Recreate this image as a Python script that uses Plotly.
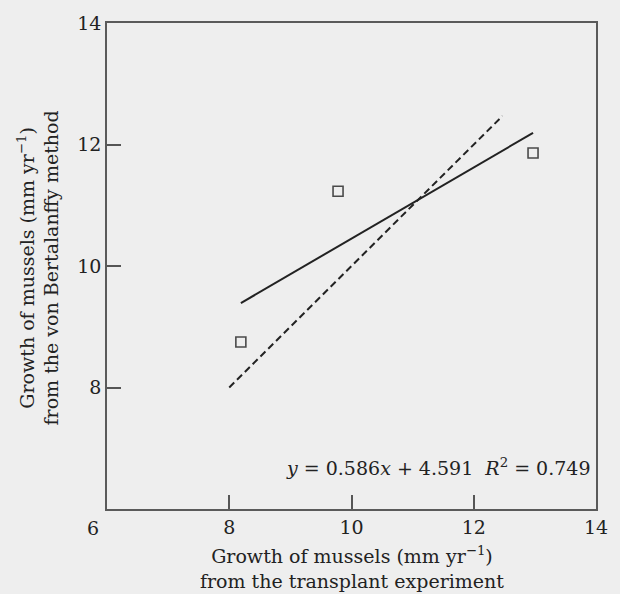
import plotly.graph_objects as go

# ---- data ----
transplant_growth = [8.19, 9.78, 12.97]      # x: growth from transplant experiment (mm/yr)
bertalanffy_growth = [8.75, 11.23, 11.86]    # y: growth from von Bertalanffy method (mm/yr)
fit_slope = 0.586
fit_intercept = 4.591
fit_r2 = 0.749
one_to_one_x = [8.0, 12.47]                  # dashed 1:1 line extent
x_tick_vals = [8, 10, 12, 14]
x_tick_text = ["8", "10", "12", "14"]
x_origin_label = "6"
y_tick_vals = [8, 10, 12, 14]
y_tick_text = ["8", "10", "12", "14"]
x_range = [6, 14]
y_range = [6, 14]

FONT = "DejaVu Serif"
INK = "#222222"
BG = "#eeeeee"
FS = 19

fit_x = [min(transplant_growth), max(transplant_growth)]
fit_y = [fit_slope * v + fit_intercept for v in fit_x]

fig = go.Figure()
fig.add_trace(go.Scatter(
    x=one_to_one_x, y=one_to_one_x, mode="lines",
    line=dict(color=INK, width=2, dash="7px,4px"), showlegend=False, hoverinfo="skip"))
fig.add_trace(go.Scatter(
    x=fit_x, y=fit_y, mode="lines",
    line=dict(color=INK, width=2), showlegend=False))
fig.add_trace(go.Scatter(
    x=transplant_growth, y=bertalanffy_growth, mode="markers",
    marker=dict(symbol="square-open", size=10, color="#4a4a4a", line=dict(width=1.6)),
    showlegend=False))

axis_common = dict(
    showgrid=False, zeroline=False, showline=True, linecolor="#5a5a5a", linewidth=1.5,
    mirror=True, ticks="inside", ticklen=14, tickwidth=1.5, tickcolor="#555555",
    tickfont=dict(family=FONT, size=FS, color=INK),
)
fig.update_xaxes(range=x_range, tickvals=x_tick_vals, ticktext=x_tick_text, **axis_common)
fig.update_yaxes(range=y_range, tickvals=y_tick_vals, ticktext=y_tick_text, **axis_common)

eq_text = (f"<i>y</i> = {fit_slope:.3f}<i>x</i> + {fit_intercept:.3f}\u00a0\u00a0"
           f"<i>R</i><sup>2</sup> = {fit_r2:.3f}")

annotations = [
    dict(x=13.95, y=6.69, xref="x", yref="y", text=eq_text, showarrow=False,
         xanchor="right", yanchor="middle", font=dict(family=FONT, size=FS, color=INK)),
    dict(x=6, y=6, xref="x", yref="y", text=x_origin_label, showarrow=False,
         xanchor="center", yanchor="top", xshift=-14, yshift=-6,
         font=dict(family=FONT, size=FS, color=INK)),
    dict(x=0.5, y=-0.066, xref="paper", yref="paper",
         text="Growth of mussels (mm yr<sup>\u22121</sup>)<br>from the transplant experiment",
         showarrow=False, xanchor="center", yanchor="top",
         font=dict(family=FONT, size=FS, color=INK)),
    dict(x=-0.14, y=0.496, xref="paper", yref="paper", textangle=-90,
         text="Growth of mussels (mm yr<sup>\u22121</sup>)<br>from the von Bertalanffy method",
         showarrow=False, xanchor="center", yanchor="middle",
         font=dict(family=FONT, size=FS, color=INK)),
]

fig.update_layout(
    width=620, height=594,
    margin=dict(l=107, r=13, t=17, b=85),
    paper_bgcolor=BG, plot_bgcolor=BG,
    font=dict(family=FONT, color=INK),
    annotations=annotations,
)

fig.write_html("out.html")
